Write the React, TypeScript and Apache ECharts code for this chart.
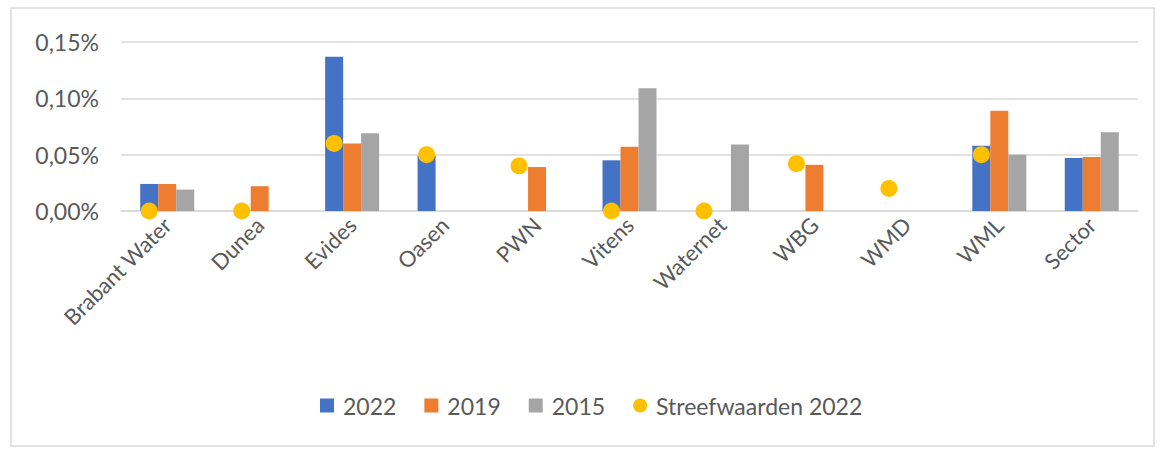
import React, { useEffect, useRef } from "react";
import * as echarts from "echarts";

const categories = ["Brabant Water", "Dunea", "Evides", "Oasen", "PWN", "Vitens", "Waternet", "WBG", "WMD", "WML", "Sector"];
const values2022 = [0.024, null, 0.137, 0.049, null, 0.045, null, null, null, 0.058, 0.047];
const values2019 = [0.024, 0.022, 0.060, null, 0.039, 0.057, null, 0.041, null, 0.089, 0.048];
const values2015 = [0.019, null, 0.069, null, null, 0.109, 0.059, null, null, 0.050, 0.070];
const streefwaarden2022 = [0.0, 0.0, 0.060, 0.050, 0.040, 0.0, 0.0, 0.042, 0.020, 0.050, null];
const yTicks = { min: 0, max: 0.15, interval: 0.05 };

const FONT = "Lato, 'Open Sans', sans-serif";
const TEXT = "#595959";

export default function App() {
  const ref = useRef<HTMLDivElement>(null);
  useEffect(() => {
    if (!ref.current) return;
    const chart = echarts.init(ref.current, undefined, { renderer: "svg" });
    const barW = 18;
    chart.setOption({
      animation: false,
      backgroundColor: "#ffffff",
      textStyle: { fontFamily: FONT },
      graphic: [
        {
          type: "rect",
          shape: { x: 11, y: 8, width: 1143, height: 438 },
          style: { fill: "none", stroke: "#d9d9d9", lineWidth: 1.5 },
          silent: true,
          z: -1,
        },
      ],
      grid: { left: 121, right: 25, top: 42, bottom: 239, containLabel: false },
      legend: {
        bottom: 28,
        left: 315,
        itemWidth: 14,
        itemHeight: 14,
        itemGap: 28,
        textStyle: { color: TEXT, fontSize: 23, fontFamily: FONT, padding: [0, 0, 0, 4] },
        data: [
          { name: "2022", icon: "rect" },
          { name: "2019", icon: "rect" },
          { name: "2015", icon: "rect" },
          { name: "Streefwaarden 2022", icon: "circle" },
        ],
      },
      xAxis: {
        type: "category",
        data: categories,
        axisLine: { show: true, lineStyle: { color: "#d9d9d9", width: 1.5 } },
        axisTick: { show: false },
        axisLabel: { color: TEXT, fontSize: 22, rotate: 45, interval: 0, margin: 10, fontFamily: FONT },
      },
      yAxis: {
        type: "value",
        min: yTicks.min,
        max: yTicks.max,
        interval: yTicks.interval,
        axisLine: { show: false },
        axisTick: { show: false },
        splitLine: { lineStyle: { color: "#d9d9d9", width: 1.5 } },
        axisLabel: {
          color: TEXT,
          fontSize: 23,
          margin: 22,
          fontFamily: FONT,
          formatter: (v: number) => v.toFixed(2).replace(".", ",") + "%",
        },
      },
      series: [
        { name: "2022", type: "bar", data: values2022, barWidth: barW, barGap: "0%", itemStyle: { color: "#4472C4" } },
        { name: "2019", type: "bar", data: values2019, barWidth: barW, barGap: "0%", itemStyle: { color: "#ED7D31" } },
        { name: "2015", type: "bar", data: values2015, barWidth: barW, barGap: "0%", itemStyle: { color: "#A5A5A5" } },
        {
          name: "Streefwaarden 2022",
          type: "scatter",
          data: streefwaarden2022,
          symbol: "circle",
          symbolSize: 17,
          symbolOffset: [-barW, 0],
          itemStyle: { color: "#FFC000", opacity: 1 },
          z: 5,
        },
      ],
    });
    return () => chart.dispose();
  }, []);
  return (
    <div
      ref={ref}
      style={{ position: "fixed", left: 0, top: 0, width: 1163, height: 450 }}
    />
  );
}
